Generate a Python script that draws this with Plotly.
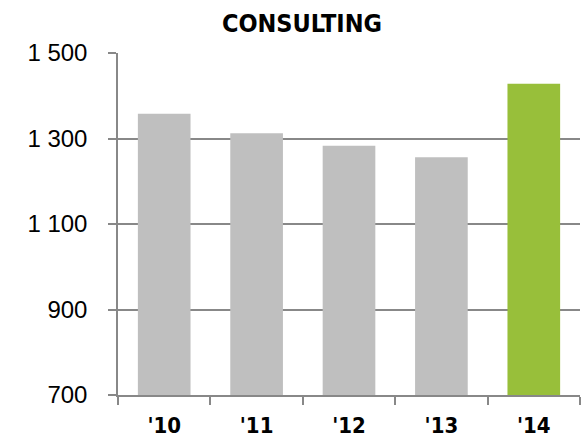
import plotly.graph_objects as go

# Consulting revenue by year
years = ["'10", "'11", "'12", "'13", "'14"]
revenue = [1358, 1312, 1283, 1256, 1428]

y_tick_values = [700, 900, 1100, 1300, 1500]
y_tick_labels = ["700", "900", "1 100", "1 300", "1 500"]

GREY = "#BFBFBF"
GREEN = "#98BF3A"
AXIS = "#888888"
NARROW = "DejaVu Sans Condensed, Liberation Sans Narrow, Arial Narrow, sans-serif"

bar_colors = [GREY] * (len(years) - 1) + [GREEN]

fig = go.Figure(
    go.Bar(
        x=years,
        y=revenue,
        marker=dict(color=bar_colors, line=dict(width=0)),
        width=0.57,
        hoverinfo="x+y",
    )
)

fig.update_layout(
    width=584,
    height=438,
    margin=dict(l=118, r=4, t=53, b=43),
    paper_bgcolor="white",
    plot_bgcolor="white",
    showlegend=False,
    title=dict(
        text="<b>CONSULTING</b>",
        x=0.517,
        xanchor="center",
        y=0.947,
        yanchor="middle",
        font=dict(family=NARROW, size=25, color="black"),
    ),
)

fig.update_xaxes(
    type="category",
    range=[-0.5, 4.5],
    automargin=False,
    showline=True,
    linecolor=AXIS,
    linewidth=1.5,
    ticks="outside",
    tickson="boundaries",
    ticklen=8,
    tickwidth=1.5,
    tickcolor=AXIS,
    showgrid=False,
    tickfont=dict(family=NARROW, size=22, color="black", weight="bold"),
    ticklabelstandoff=10,
)

fig.update_yaxes(
    range=[700, 1500],
    tickvals=y_tick_values,
    ticktext=y_tick_labels,
    automargin=False,
    showline=True,
    linecolor=AXIS,
    linewidth=1.5,
    ticks="outside",
    ticklen=8,
    tickwidth=1.5,
    tickcolor=AXIS,
    showgrid=True,
    gridcolor=AXIS,
    gridwidth=1.5,
    zeroline=False,
    tickfont=dict(family="Liberation Sans", size=24, color="black"),
    ticklabelstandoff=16,
)

fig.write_html("out.html")
